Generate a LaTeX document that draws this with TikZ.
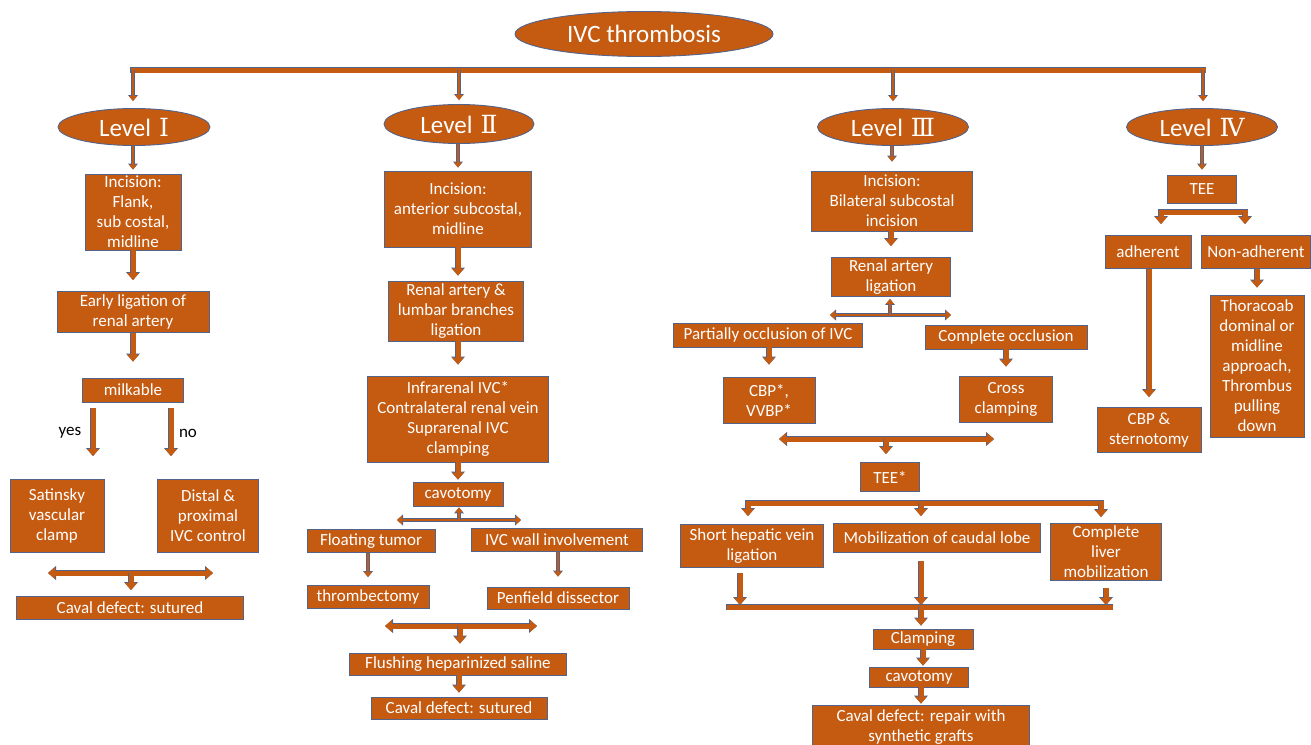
\documentclass[tikz,border=0pt]{standalone}
\usepackage{fontspec}
\setmainfont{Carlito}
\newfontfamily\rnfont{DejaVu Serif}
\usetikzlibrary{shapes.geometric,arrows.meta}
\definecolor{orng}{HTML}{C55A11}
\definecolor{edgec}{HTML}{52648C}
\tikzset{
  box/.style={rectangle, draw=edgec, line width=0.9pt, fill=orng, text=white,
    font=\fontsize{17}{20}\selectfont, align=center, inner sep=0pt},
  ell/.style={ellipse, draw=edgec, line width=0.9pt, fill=orng, text=white,
    font=\fontsize{25}{28}\selectfont, inner sep=0pt},
  lbl/.style={font=\fontsize{17}{20}\selectfont, text=black, inner sep=0pt},
  bar/.style={line width=5pt, draw=orng, line cap=rect,
    preaction={draw=edgec, line width=6.5pt, line cap=rect}},
  barrow/.style={line width=5pt, draw=orng,
    -{Triangle[length=7pt 0 0, width=12pt 0 0, line width=0pt 0 0]},
    preaction={draw=edgec, line width=6.5pt,
      -{Triangle[length=8pt 0 0, width=14pt 0 0, line width=0pt 0 0]}}},
  tarrow/.style={line width=2.6pt, draw=orng,
    -{Triangle[length=5pt 0 0, width=8pt 0 0, line width=0pt 0 0]},
    preaction={draw=edgec, line width=3.6pt,
      -{Triangle[length=6pt 0 0, width=10pt 0 0, line width=0pt 0 0]}}},
  dbarrow/.style={line width=5pt, draw=orng,
    {Triangle[length=7pt 0 0, width=12pt 0 0, line width=0pt 0 0]}-{Triangle[length=7pt 0 0, width=12pt 0 0, line width=0pt 0 0]},
    preaction={draw=edgec, line width=6.5pt,
      {Triangle[length=8pt 0 0, width=14pt 0 0, line width=0pt 0 0]}-{Triangle[length=8pt 0 0, width=14pt 0 0, line width=0pt 0 0]}}},
  dtarrow/.style={line width=2.8pt, draw=orng,
    {Triangle[length=5pt 0 0, width=9pt 0 0, line width=0pt 0 0]}-{Triangle[length=5pt 0 0, width=9pt 0 0, line width=0pt 0 0]},
    preaction={draw=edgec, line width=3.8pt,
      {Triangle[length=6pt 0 0, width=11pt 0 0, line width=0pt 0 0]}-{Triangle[length=6pt 0 0, width=11pt 0 0, line width=0pt 0 0]}}},
}
\begin{document}
\begin{tikzpicture}[x=1pt,y=-1pt]
\fill[white] (0,0) rectangle (1311,744);
\useasboundingbox (0,0) rectangle (1311,744);

% ---------- top ----------
\node[ell, minimum width=258, minimum height=45] (top) at (644,34) {IVC thrombosis};
\node[ell, minimum width=152, minimum height=37] (L1) at (134,127) {Level\hspace{8pt}{\rnfont Ⅰ}};
\node[ell, minimum width=150, minimum height=39] (L2) at (459,124) {Level\hspace{8pt}{\rnfont Ⅱ}};
\node[ell, minimum width=151, minimum height=37] (L3) at (893,127) {Level\hspace{8pt}{\rnfont Ⅲ}};
\node[ell, minimum width=151, minimum height=37] (L4) at (1202,127) {Level\hspace{8pt}{\rnfont Ⅳ}};

% ---------- Level I ----------
\node[box, minimum width=96, minimum height=76] (inc1) at (133,212) {Incision:\\Flank,\\sub costal,\\midline};
\node[box, minimum width=152, minimum height=41] (ear1) at (133,312) {Early ligation of\\renal artery};
\node[box, minimum width=101, minimum height=24] (milk) at (133,390) {milkable};
\node[lbl] (yes) at (70,433) {yes};
\node[lbl] (no) at (188,433) {no};
\node[box, minimum width=94, minimum height=73] (sat) at (57,516) {Satinsky\\vascular\\clamp};
\node[box, minimum width=101, minimum height=73] (dis) at (208,516) {Distal \&\\proximal\\IVC control};
\node[box, minimum width=227, minimum height=23] (cav1) at (130,608) {Caval defect: sutured};

% ---------- Level II ----------
\node[box, minimum width=147, minimum height=76] (inc2) at (458,209) {Incision:\\anterior subcostal,\\midline};
\node[box, minimum width=135, minimum height=60] (ren2) at (456,311) {Renal artery \&\\lumbar branches\\ligation};
\node[box, minimum width=181, minimum height=86] (inf2) at (458,419) {Infrarenal IVC*\\Contralateral renal vein\\Suprarenal IVC\\clamping};
\node[box, minimum width=90, minimum height=24] (cavo2) at (458,494) {cavotomy};
\node[box, minimum width=128, minimum height=23] (flo) at (371,541) {Floating tumor};
\node[box, minimum width=171, minimum height=23] (ivcw) at (557,540) {IVC wall involvement};
\node[box, minimum width=122, minimum height=23] (thr) at (368,597) {thrombectomy};
\node[box, minimum width=142, minimum height=22] (pen) at (558,598) {Penfield dissector};
\node[box, minimum width=217, minimum height=22] (flush) at (458,664) {Flushing heparinized saline};
\node[box, minimum width=176, minimum height=22] (cav2) at (459,708) {Caval defect: sutured};

% ---------- Level III ----------
\node[box, minimum width=161, minimum height=60] (inc3) at (892,201) {Incision:\\Bilateral subcostal\\incision};
\node[box, minimum width=119, minimum height=39] (ren3) at (891,277) {Renal artery\\ligation};
\node[box, minimum width=189, minimum height=24] (par) at (768,335) {Partially occlusion of IVC};
\node[box, minimum width=162, minimum height=24] (comp) at (1006,337) {Complete occlusion};
\node[box, minimum width=92, minimum height=46] (cbp) at (769,400) {CBP*,\\VVBP*};
\node[box, minimum width=93, minimum height=46] (cross) at (1006,399) {Cross\\clamping};
\node[box, minimum width=59, minimum height=29] (tee3) at (890,477) {TEE*};
\node[box, minimum width=143, minimum height=43] (shv) at (752,546) {Short hepatic vein\\ligation};
\node[box, minimum width=207, minimum height=29] (mob) at (937,538) {Mobilization of caudal lobe};
\node[box, minimum width=111, minimum height=57] (cl) at (1106,552) {Complete\\liver\\mobilization};
\node[box, minimum width=100, minimum height=20] (clamp) at (923,639) {Clamping};
\node[box, minimum width=99, minimum height=20] (cavo3) at (919,677) {cavotomy};
\node[box, minimum width=217, minimum height=44] (cdr) at (921,727) {Caval defect: repair with\\synthetic grafts};

% ---------- Level IV ----------
\node[box, minimum width=69, minimum height=28] (tee4) at (1202,189) {TEE};
\node[box, minimum width=86, minimum height=33] (adh) at (1148,252) {adherent};
\node[box, minimum width=109, minimum height=33] (nad) at (1256,252) {Non-adherent};
\node[box, minimum width=104, minimum height=45] (cbps) at (1149,430) {CBP \&\\sternotomy};
\node[box, minimum width=94, minimum height=142] (thor) at (1257,366) {Thoracoab\\dominal or\\midline\\approach,\\Thrombus\\pulling\\down};

% ---------- coordinates ----------
\coordinate (b1) at (133,70);
\coordinate (b2) at (459,70);
\coordinate (b3) at (893,70);
\coordinate (b4) at (1203,70);
\coordinate (d1l) at (48,573);  \coordinate (d1r) at (213,573);  \coordinate (d1m) at (131,573);
\coordinate (d2l) at (397,520); \coordinate (d2r) at (521,520);  \coordinate (d2m) at (459,520);
\coordinate (d3l) at (385,626); \coordinate (d3r) at (537,626);  \coordinate (d3m) at (460,626);
\coordinate (d4l) at (830,315); \coordinate (d4r) at (951,315);  \coordinate (d4m) at (890,315);
\coordinate (d5l) at (779,439); \coordinate (d5r) at (994,439);  \coordinate (d5m) at (886,439);
\coordinate (e1) at (748,503);  \coordinate (e2) at (921,503);   \coordinate (e3) at (1101,503);
\coordinate (fl) at (729,607);  \coordinate (fr) at (1110,607);
\coordinate (f1) at (740,607);  \coordinate (f2) at (921,607);   \coordinate (f3) at (1106,607);
\coordinate (g1) at (1161,212); \coordinate (g2) at (1245,212);

% ---------- top connectors ----------
\draw[bar] (b1) -- (b4);
\draw[tarrow, shorten >=7pt] (b1) -- (b1 |- L1.north);
\draw[tarrow, shorten >=4pt] (b2) -- (b2 |- L2.north);
\draw[tarrow, shorten >=7pt] (b3) -- (b3 |- L3.north);
\draw[tarrow, shorten >=7pt] (b4) -- (b4 |- L4.north);

% ---------- Level I connectors ----------
\draw[tarrow, shorten >=4pt] (L1.south -| inc1) -- (inc1.north);
\draw[barrow, shorten >=11pt] (inc1.south) -- (ear1.north);
\draw[barrow, shorten >=16pt] (ear1.south) -- (milk.north);
\draw[barrow] ([shift={(-40,6)}]milk.south) -- ([shift={(36,-23)}]sat.north);
\draw[barrow] ([shift={(38,6)}]milk.south) -- ([shift={(-37,-23)}]dis.north);
\draw[dbarrow] (d1l) -- (d1r);
\draw[barrow, shorten >=6pt] (d1m) -- (d1m |- cav1.north);

% ---------- Level II connectors ----------
\draw[tarrow, shorten >=3pt] (L2.south -| inc2) -- (inc2.north);
\draw[barrow, shorten >=5pt] (inc2.south) -- (inc2.south |- ren2.north);
\draw[barrow, shorten >=11pt] (ren2.south -| inf2) -- (inf2.north);
\draw[barrow, shorten >=2pt] (inf2.south) -- (cavo2.north);
\draw[dtarrow] (d2l) -- (d2r);
\draw[tarrow, shorten >=1pt] (d2m) -- (d2m |- cavo2.south);
\draw[tarrow, shorten >=8pt] (flo.south -| thr) -- (thr.north);
\draw[tarrow, shorten >=10pt] (ivcw.south -| pen) -- (pen.north);
\draw[dbarrow] (d3l) -- (d3r);
\draw[barrow, shorten >=9pt] (d3m) -- (d3m |- flush.north);
\draw[barrow, shorten >=4pt] (flush.south -| cav2) -- (cav2.north);

% ---------- Level III connectors ----------
\draw[tarrow, shorten >=9pt] (L3.south -| inc3) -- (inc3.north);
\draw[barrow, shorten >=11pt] (inc3.south -| ren3) -- (ren3.north);
\draw[dtarrow] (d4l) -- (d4r);
\draw[tarrow, shorten >=2pt] (d4m) -- (d4m |- ren3.south);
\draw[barrow, shorten >=12pt] (par.south -| cbp) -- (cbp.north);
\draw[barrow, shorten >=9pt] (comp.south -| cross) -- (cross.north);
\draw[dbarrow] (d5l) -- (d5r);
\draw[barrow, shorten >=8pt] (d5m) -- (d5m |- tee3.north);
\draw[bar] (e1) -- (e3);
\draw[barrow, shorten >=8pt] (e1) -- (e1 |- shv.north);
\draw[barrow, shorten >=7pt] (e2) -- (e2 |- mob.north);
\draw[barrow, shorten >=6pt] (e3) -- (e3 |- cl.north);
\draw[barrow, shorten <=5pt, shorten >=2pt] (shv.south -| f1) -- (f1);
\draw[barrow, shorten <=8pt, shorten >=2pt] (mob.south -| f2) -- (f2);
\draw[barrow, shorten <=7pt, shorten >=2pt] (cl.south -| f3) -- (f3);
\draw[bar] (fl) -- (fr);
\draw[barrow, shorten >=3pt] (f2) -- (f2 |- clamp.north);
\draw[barrow, shorten >=1pt] (clamp.south) -- (clamp.south |- cavo3.north);
\draw[barrow, shorten >=1pt] (cavo3.south -| cdr) -- (cdr.north);

% ---------- Level IV connectors ----------
\draw[tarrow, shorten >=5pt] (L4.south) -- (tee4.north);
\draw[bar] (g1) -- (g2);
\draw[barrow, shorten >=11pt] (g1) -- (g1 |- adh.north);
\draw[barrow, shorten >=11pt] (g2) -- (g2 |- nad.north);
\draw[barrow, shorten >=10pt] (adh.south -| cbps) -- (cbps.north);
\draw[barrow, shorten >=7pt] (nad.south -| thor) -- (thor.north);
\end{tikzpicture}
\end{document}
